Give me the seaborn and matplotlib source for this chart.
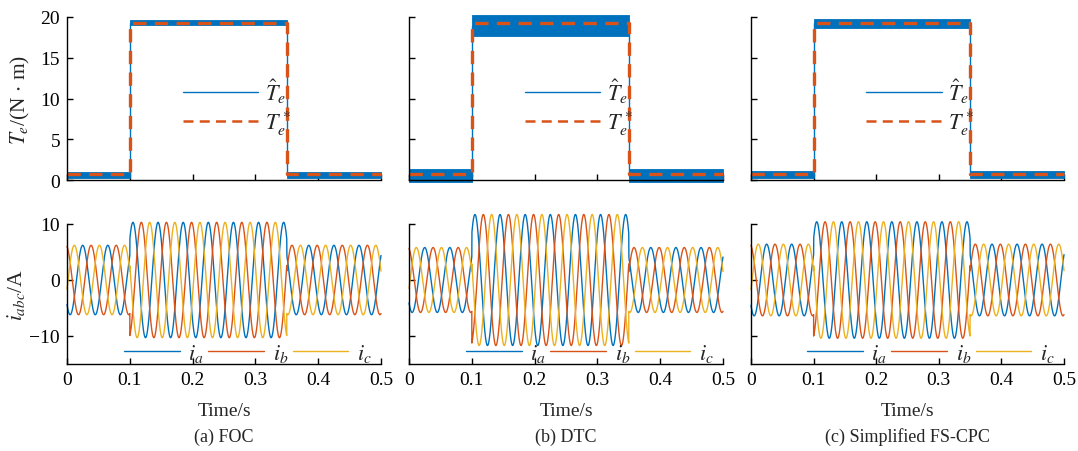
import matplotlib
matplotlib.use('Agg')

import matplotlib.pyplot as plt
import seaborn as sns
import numpy as np
from matplotlib.lines import Line2D

# ---- data ----
methods = ["FOC", "DTC", "Simplified FS-CPC"]
captions = ["(a) FOC", "(b) DTC", "(c) Simplified FS-CPC"]

# torque reference (step load)
t_step = [0.0, 0.1, 0.1, 0.35, 0.35, 0.5]
T_ref = [0.7, 0.7, 19.3, 19.3, 0.7, 0.7]

# estimated torque ripple band [low-load lo, hi, high-load lo, hi]
T_band = {
    "FOC": [0.3, 1.0, 19.0, 19.6],
    "DTC": [-0.2, 1.3, 17.7, 20.2],
    "Simplified FS-CPC": [0.2, 1.1, 18.7, 19.8],
}

# phase currents: amplitude in each segment [0-0.1, 0.1-0.35, 0.35-0.5]
seg_edges = [0.0, 0.1, 0.35, 0.5]
I_amp = {
    "FOC": [6.2, 10.3, 6.2],
    "DTC": [5.8, 11.7, 5.8],
    "Simplified FS-CPC": [6.4, 10.4, 6.4],
}
f_elec = 25.0     # Hz
t_peak_a = 0.025  # first positive peak of i_a

c_blue = "#0072BD"
c_orange = "#D95319"
c_yellow = "#EDB120"

sns.set_theme(style="ticks")
plt.rcParams['font.family'] = ['Liberation Serif', 'DejaVu Serif']
plt.rcParams['mathtext.fontset'] = 'stix'
plt.rcParams['font.size'] = 14

fig = plt.figure(figsize=(10.78, 4.52), dpi=100)
W, H = 1078.0, 452.0
cols = [(67, 381), (409, 723), (751, 1064)]


def px_axes(x0, x1, ytop, ybot):
    return fig.add_axes([x0 / W, 1 - ybot / H, (x1 - x0) / W, (ybot - ytop) / H])


def style(ax):
    for s in ["top", "right"]:
        ax.spines[s].set_visible(False)
    for s in ["left", "bottom"]:
        ax.spines[s].set_linewidth(1.0)
        ax.spines[s].set_color("black")
    ax.tick_params(direction="in", length=4, width=1.0, labelsize=14,
                   colors="black", pad=5)
    ax.set_xlim(0, 0.5)
    ax.set_xticks([0, 0.1, 0.2, 0.3, 0.4, 0.5])


t = np.linspace(0, 0.5, 6001)

for k, m in enumerate(methods):
    x0, x1 = cols[k]

    # ---- torque ----
    ax = px_axes(x0, x1, 18, 181)
    lo_l, hi_l, lo_h, hi_h = T_band[m]
    band_lo = [lo_l, lo_l, lo_h, lo_h, lo_l, lo_l]
    band_hi = [hi_l, hi_l, hi_h, hi_h, hi_l, hi_l]
    ax.fill_between(t_step, band_lo, band_hi, color=c_blue, lw=0.6,
                    edgecolor=c_blue, clip_on=False)
    est = [(a + b) / 2 for a, b in zip(band_lo, band_hi)]
    sns.lineplot(x=t_step, y=est, ax=ax, color=c_blue, lw=1.0,
                 estimator=None, sort=False)
    sns.lineplot(x=t_step, y=T_ref, ax=ax, color=c_orange, lw=2.4,
                 estimator=None, sort=False, linestyle=(0, (4, 2.5)))
    for ln in ax.lines:
        ln.set_clip_on(False)
    style(ax)
    ax.set_ylim(0, 20)
    ax.set_yticks([0, 5, 10, 15, 20])
    ax.set_xticklabels([])
    if k == 0:
        ax.set_ylabel(r"$T_e$/(N $\cdot$ m)", fontsize=15.5, labelpad=6)
    else:
        ax.set_yticklabels([])
    h = [Line2D([], [], color=c_blue, lw=1.0),
         Line2D([], [], color=c_orange, lw=1.8, linestyle=(0, (4, 2.5)))]
    ax.legend(h, [r"$\hat{T}_e$", r"$T_e^*$"], loc="center",
              bbox_to_anchor=(0.54, 0.45), frameon=False, fontsize=16,
              handlelength=3.4, handletextpad=0.3, labelspacing=0.15)

    # ---- currents ----
    ax2 = px_axes(x0, x1, 225, 365)
    amp = np.select([t < seg_edges[1], t < seg_edges[2]],
                    [I_amp[m][0], I_amp[m][1]], I_amp[m][2])
    th = 2 * np.pi * f_elec * (t - t_peak_a)
    ia = amp * np.cos(th)
    ib = amp * np.cos(th - 2 * np.pi / 3)
    ic = amp * np.cos(th + 2 * np.pi / 3)
    sns.lineplot(x=t, y=ia, ax=ax2, color=c_blue, lw=1.0, estimator=None)
    sns.lineplot(x=t, y=ib, ax=ax2, color=c_orange, lw=1.0, estimator=None)
    sns.lineplot(x=t, y=ic, ax=ax2, color=c_yellow, lw=1.0, estimator=None)
    for ln in ax2.lines:
        ln.set_clip_on(False)
    style(ax2)
    ax2.set_ylim(-15, 10)
    ax2.set_yticks([-10, 0, 10])
    ax2.set_xticklabels(["0", "0.1", "0.2", "0.3", "0.4", "0.5"])
    ax2.set_xlabel("Time/s", fontsize=14, labelpad=10)
    if k == 0:
        ax2.set_ylabel(r"$i_{abc}$/A", fontsize=15.5, labelpad=2)
        ax2.set_yticklabels(["\u221210", "0", "10"])
    else:
        ax2.set_yticklabels([])
    h2 = [Line2D([], [], color=c, lw=1.0) for c in (c_blue, c_orange, c_yellow)]
    ax2.legend(h2, [r"$i_a$", r"$i_b$", r"$i_c$"], loc="center right",
               bbox_to_anchor=(1.0, 0.08), ncol=3, frameon=False,
               fontsize=16, handlelength=2.5, handletextpad=0.4,
               columnspacing=0.2, borderaxespad=0.0)

    fig.text((x0 + x1) / 2 / W, 1 - 437 / H, captions[k], ha="center",
             va="center", fontsize=13)

fig.savefig("out.png", dpi=100, facecolor="white")
plt.close(fig)
